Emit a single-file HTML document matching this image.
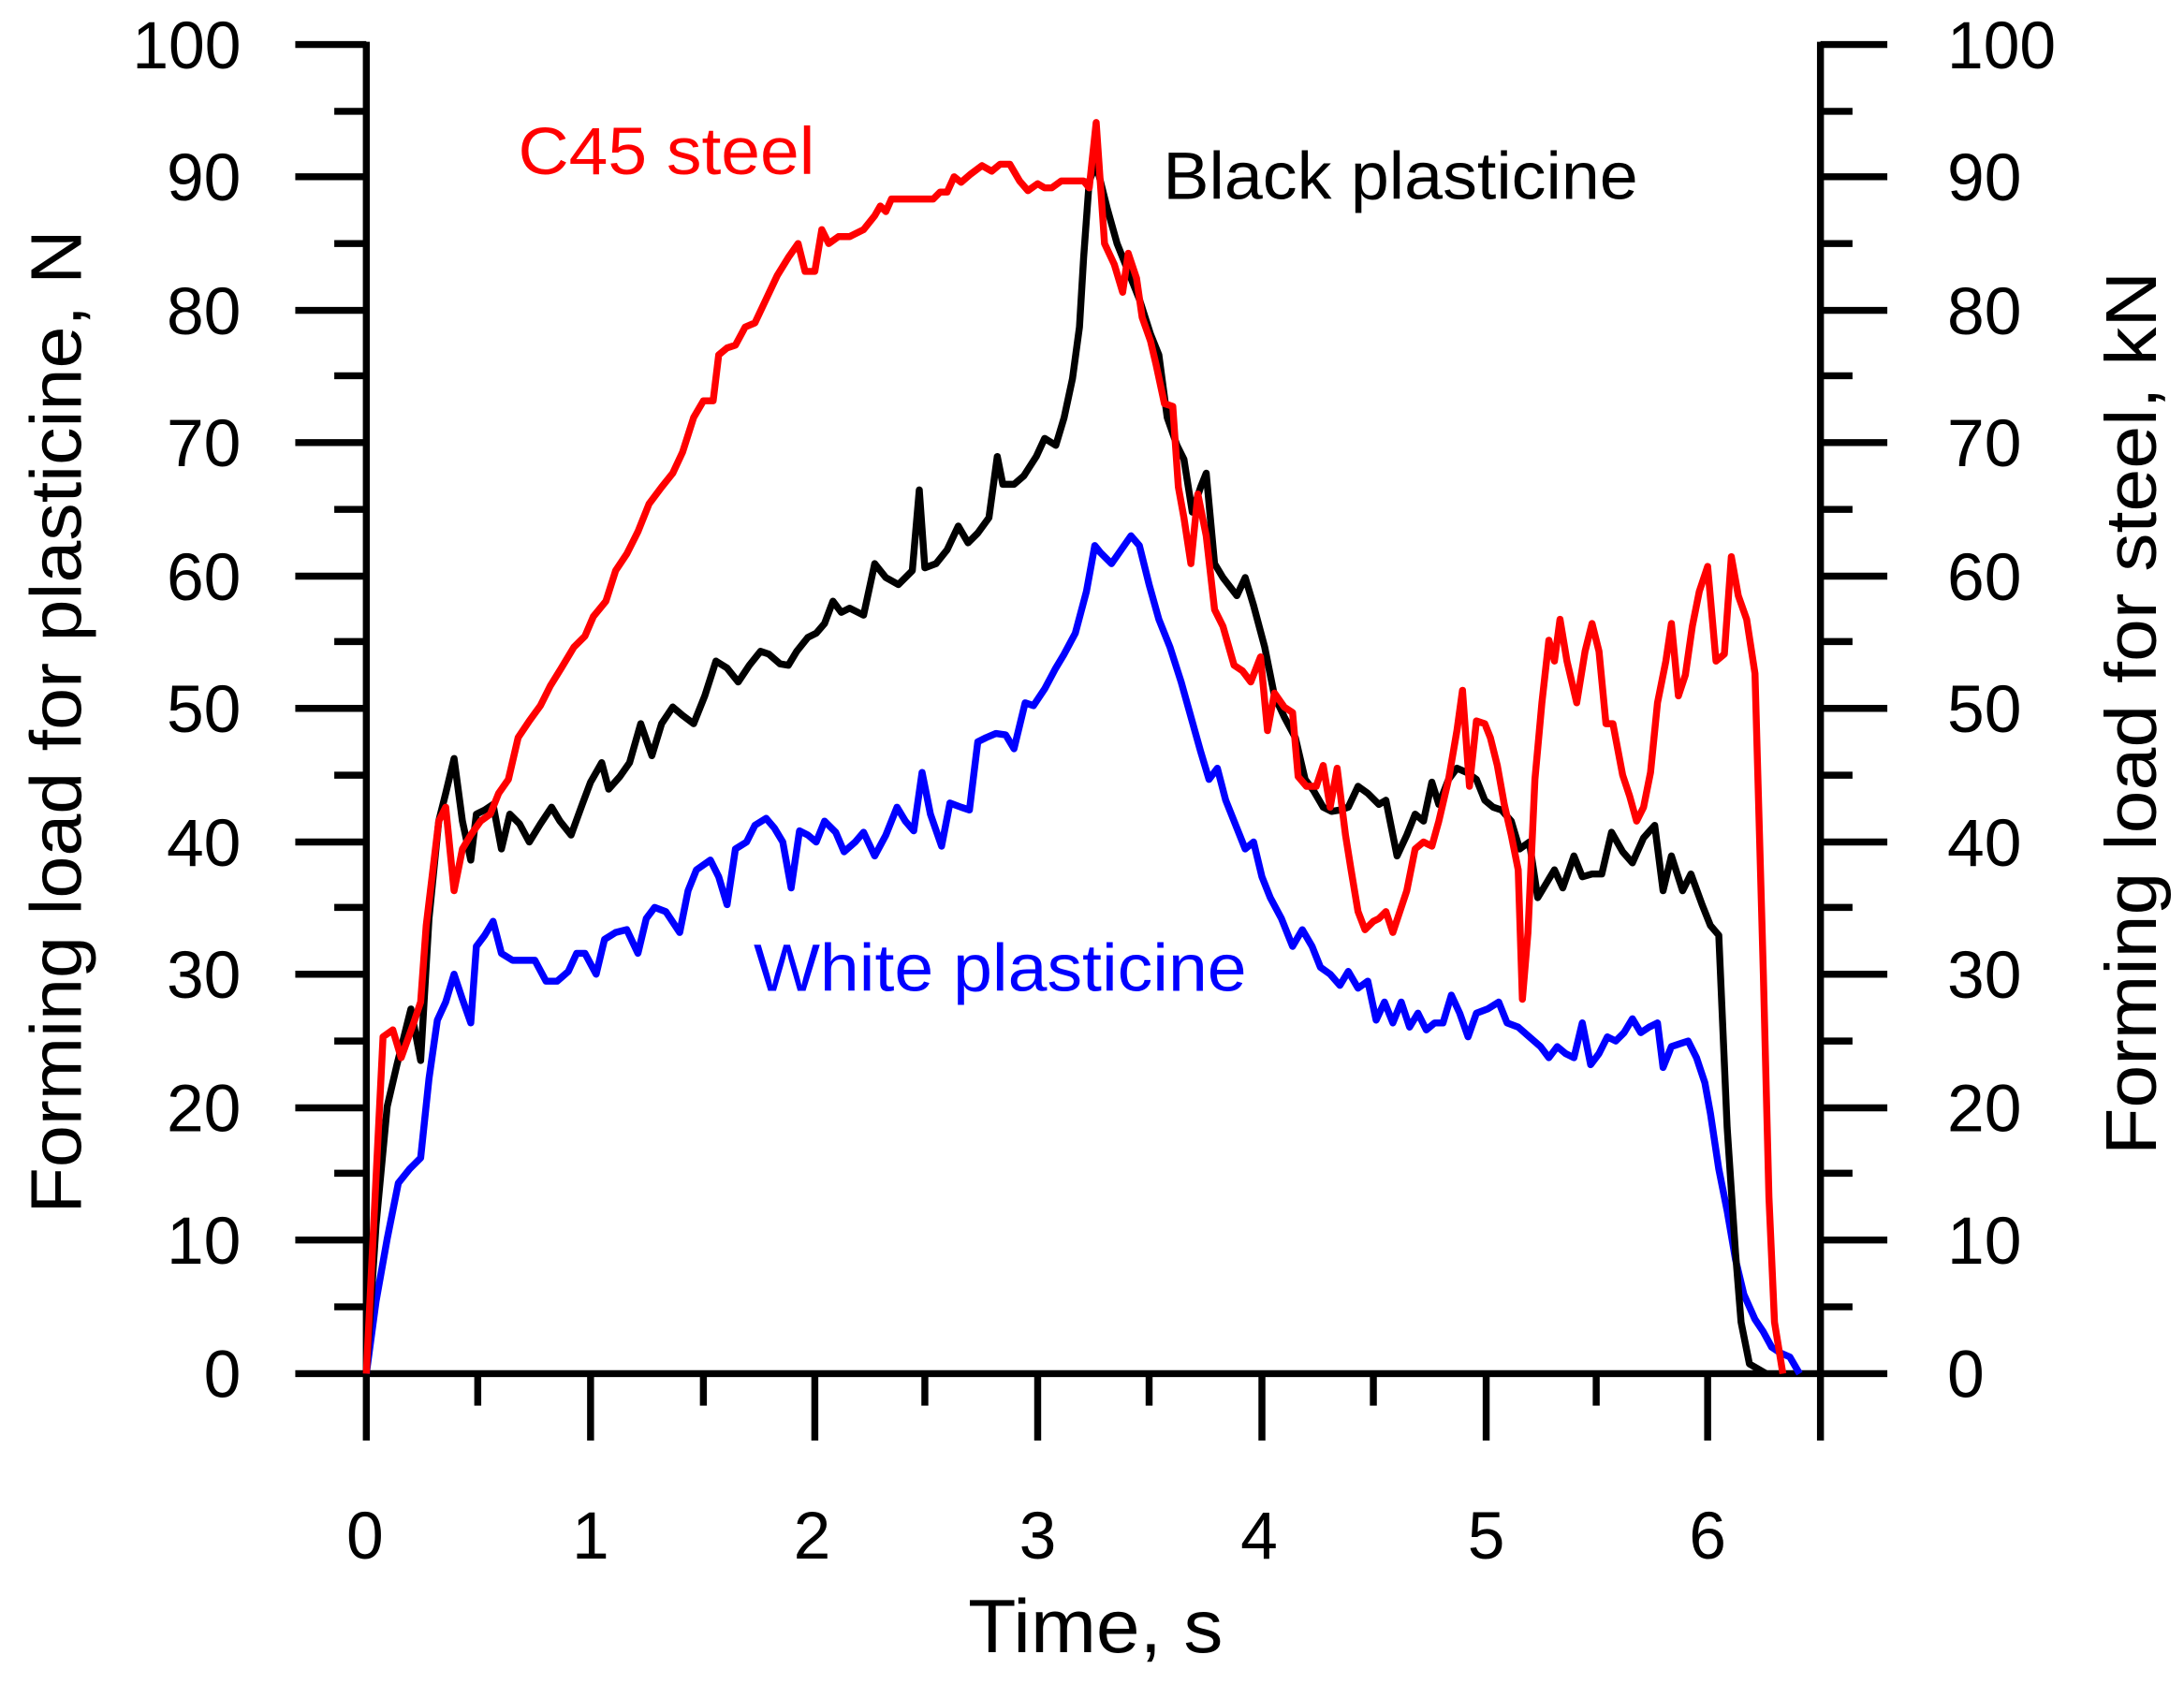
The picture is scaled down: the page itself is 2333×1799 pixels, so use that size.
<!DOCTYPE html>
<html><head><meta charset="utf-8"><style>html,body{margin:0;padding:0;background:#fff}svg{display:block}</style></head>
<body>
<svg width="2333" height="1799" viewBox="0 0 1568 1210" preserveAspectRatio="none" xmlns="http://www.w3.org/2000/svg" font-family="Liberation Sans, Arial, sans-serif">
<rect width="1568" height="1210" fill="#fff"/>
<g stroke="#000" stroke-width="5" fill="none">
<line x1="263" y1="30" x2="263" y2="1035"/>
<line x1="1307" y1="30" x2="1307" y2="1035"/>
<line x1="212" y1="987" x2="1355" y2="987"/>
<path d="M212,32H263M212,127H263M212,223H263M212,318H263M212,414H263M212,509H263M212,605H263M212,700H263M212,796H263M212,891H263
M240,80H263M240,175H263M240,270H263M240,366H263M240,461H263M240,557H263M240,652H263M240,748H263M240,843H263M240,939H263
M1307,32H1355M1307,127H1355M1307,223H1355M1307,318H1355M1307,414H1355M1307,509H1355M1307,605H1355M1307,700H1355M1307,796H1355M1307,891H1355
M1307,80H1330M1307,175H1330M1307,270H1330M1307,366H1330M1307,461H1330M1307,557H1330M1307,652H1330M1307,748H1330M1307,843H1330M1307,939H1330
M424,987V1035M585,987V1035M745,987V1035M906,987V1035M1067,987V1035M1226,987V1035
M343,987V1010M505,987V1010M664,987V1010M825,987V1010M986,987V1010M1146,987V1010"/>
</g>
<g font-size="48" text-anchor="end">
<text x="173" y="49" textLength="78" lengthAdjust="spacingAndGlyphs">100</text><text x="173" y="144">90</text><text x="173" y="240">80</text><text x="173" y="335">70</text><text x="173" y="431">60</text><text x="173" y="526">50</text><text x="173" y="622">40</text><text x="173" y="717">30</text><text x="173" y="813">20</text><text x="173" y="908">10</text><text x="173" y="1004">0</text>
</g>
<g font-size="48" text-anchor="start">
<text x="1398" y="49" textLength="78" lengthAdjust="spacingAndGlyphs">100</text><text x="1398" y="144">90</text><text x="1398" y="240">80</text><text x="1398" y="335">70</text><text x="1398" y="431">60</text><text x="1398" y="526">50</text><text x="1398" y="622">40</text><text x="1398" y="717">30</text><text x="1398" y="813">20</text><text x="1398" y="908">10</text><text x="1398" y="1004">0</text>
</g>
<g font-size="48" text-anchor="middle">
<text x="262" y="1120">0</text><text x="424" y="1120">1</text><text x="583" y="1120">2</text><text x="745" y="1120">3</text><text x="904" y="1120">4</text><text x="1067" y="1120">5</text><text x="1226" y="1120">6</text>
</g>
<text x="695" y="1187" font-size="54" textLength="183" lengthAdjust="spacingAndGlyphs">Time, s</text>
<text transform="translate(58,872) rotate(-90)" font-size="52" textLength="707" lengthAdjust="spacingAndGlyphs">Forming load for plasticine, N</text>
<text transform="translate(1548,830) rotate(-90)" font-size="52" textLength="635" lengthAdjust="spacingAndGlyphs">Forming load for steel, kN</text>
<text x="372" y="125" font-size="48" fill="#ff0000" textLength="213" lengthAdjust="spacingAndGlyphs">C45 steel</text>
<text x="835" y="143" font-size="48" fill="#000" textLength="341" lengthAdjust="spacingAndGlyphs">Black plasticine</text>
<text x="541" y="712" font-size="48" fill="#0000ff" textLength="354" lengthAdjust="spacingAndGlyphs">White plasticine</text>
<g fill="none" stroke-width="5" stroke-linejoin="round">
<polyline stroke="#0000ff" points="263,987 270,935 278,890 286,850 294,840 302,832 308,775 314,733 320,720 326,700 332,718 338,735 342,680 348,672 354,662 360,685 368,690 376,690 384,690 392,705 400,705 408,698 414,685 420,685 428,700 434,675 442,670 450,668 458,685 464,660 470,652 478,655 488,670 494,640 500,625 510,618 516,630 522,650 528,610 536,605 542,593 550,588 556,595 562,605 568,638 574,597 580,600 586,605 592,590 600,598 606,612 614,605 620,598 628,615 636,600 644,580 650,590 656,597 662,555 668,585 676,608 682,577 690,580 696,582 702,533 708,530 715,527 722,528 728,538 736,505 742,507 750,495 758,480 764,470 772,455 776,440 780,425 786,392 790,397 798,405 805,395 812,385 818,392 825,420 832,445 840,465 848,490 855,515 862,540 868,560 874,552 880,575 888,595 894,610 900,605 906,630 912,645 920,660 928,680 935,668 942,680 948,695 955,700 962,708 968,698 975,710 982,705 988,733 994,720 1000,735 1006,720 1012,738 1018,728 1024,740 1030,735 1036,735 1042,715 1048,728 1054,745 1060,728 1068,725 1076,720 1082,735 1090,738 1098,745 1106,752 1112,760 1118,752 1124,757 1130,760 1136,735 1142,765 1148,757 1154,745 1160,748 1166,742 1172,732 1178,742 1184,738 1190,735 1194,767 1200,752 1206,750 1212,748 1218,760 1224,778 1228,800 1234,840 1240,870 1246,905 1252,930 1260,948 1266,957 1272,968 1278,972 1285,975 1292,987"/>
<polyline stroke="#000" points="263,987 270,880 278,795 285,765 295,725 302,762 308,660 315,590 320,570 326,545 332,590 338,618 342,585 348,582 354,578 360,610 366,585 373,592 380,605 388,592 396,580 402,590 410,600 418,578 424,562 432,548 437,567 445,558 452,548 460,520 468,543 475,520 483,508 490,514 498,520 506,500 514,475 522,480 530,490 538,478 546,468 552,470 560,477 566,478 572,468 580,458 586,455 592,448 598,432 604,440 610,437 620,442 628,405 636,415 645,420 655,410 660,352 664,408 672,405 680,395 688,378 695,390 702,383 710,372 716,328 720,348 728,348 735,342 744,328 750,315 758,320 764,300 770,272 775,235 778,185 782,130 787,118 795,150 802,175 810,195 818,215 826,240 832,255 838,300 845,320 850,330 856,368 862,350 866,340 872,405 878,415 888,428 894,415 900,435 908,465 915,500 922,515 930,530 937,560 943,568 950,580 956,583 962,582 968,580 975,565 982,570 990,578 995,575 1003,615 1010,600 1016,585 1022,590 1028,562 1033,578 1040,560 1046,552 1053,555 1060,560 1066,575 1072,580 1078,582 1085,590 1091,610 1098,605 1104,645 1110,635 1116,625 1122,638 1130,615 1136,630 1143,628 1150,628 1157,598 1165,612 1172,620 1180,602 1188,593 1194,640 1200,615 1208,640 1214,628 1222,650 1228,665 1234,672 1240,810 1246,900 1250,950 1256,980 1268,987"/>
<polyline stroke="#ff0000" points="263,987 275,745 282,740 288,760 297,735 302,720 306,665 315,590 320,580 326,640 332,610 338,600 345,590 352,585 358,570 365,560 372,530 380,518 388,507 395,493 403,480 412,465 420,457 426,443 435,432 442,410 450,398 458,382 466,362 475,350 483,340 490,325 498,300 505,288 512,288 516,255 522,250 528,248 535,235 542,232 550,215 558,198 566,185 573,175 578,195 585,195 590,165 595,175 602,170 610,170 620,165 628,155 632,148 636,152 640,143 650,143 660,143 670,143 675,138 680,138 685,127 690,131 697,125 705,119 712,123 718,118 725,118 732,130 738,137 745,132 750,135 755,135 762,130 770,130 778,130 782,135 787,88 793,175 800,190 806,210 810,182 816,200 820,228 826,245 830,262 836,290 842,292 846,350 850,372 855,405 860,355 866,385 872,438 878,450 886,478 892,482 898,490 905,472 910,525 915,498 922,508 928,512 932,558 938,565 945,565 950,550 955,580 960,552 966,600 970,625 975,655 980,668 986,662 990,660 995,655 1000,670 1005,655 1010,640 1016,610 1022,605 1028,608 1033,590 1040,560 1046,525 1050,496 1055,565 1060,518 1066,520 1070,530 1075,550 1080,578 1085,600 1090,625 1093,718 1097,670 1102,560 1107,505 1112,460 1116,475 1120,445 1125,475 1132,505 1138,468 1143,448 1148,468 1153,520 1158,520 1165,557 1170,572 1175,590 1180,580 1185,555 1190,505 1196,475 1200,448 1205,500 1210,485 1215,450 1220,425 1226,407 1232,475 1238,470 1243,400 1248,428 1254,445 1260,484 1266,700 1270,860 1274,950 1280,987"/>
</g>
</svg>
</body></html>
